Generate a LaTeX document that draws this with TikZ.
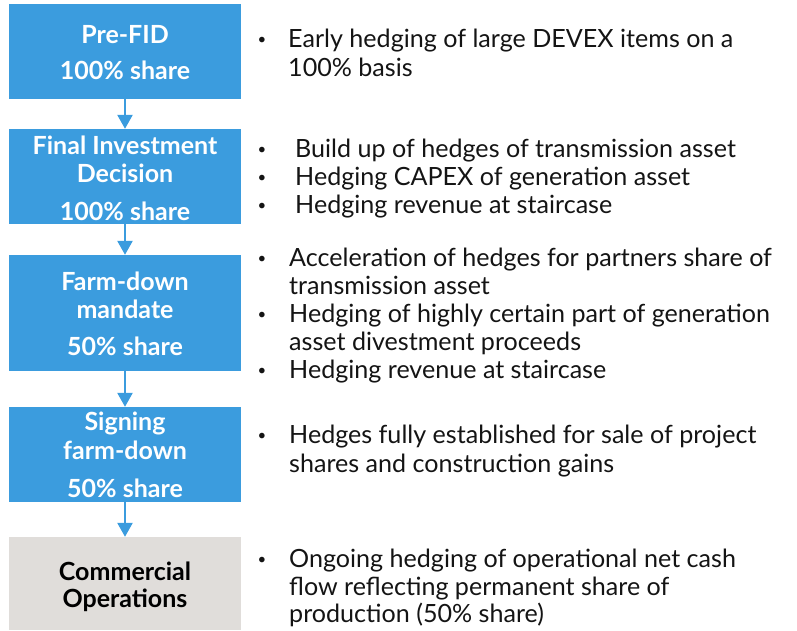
\documentclass[tikz,border=0pt]{standalone}
\usepackage{fontspec}
\setmainfont{Lato}
\usetikzlibrary{arrows.meta}
\definecolor{stepblue}{RGB}{59,156,222}
\definecolor{opgrey}{RGB}{224,221,218}
\definecolor{txt}{RGB}{20,20,20}
\begin{document}
\begin{tikzpicture}[x=1pt,y=-1pt,
  box/.style={draw=none,inner sep=0pt,minimum width=232pt},
  btxt/.style={anchor=base,inner sep=0pt,font=\fontsize{25}{30}\selectfont\bfseries,text=white},
  gtxt/.style={anchor=base,inner sep=0pt,font=\fontsize{25}{30}\selectfont\bfseries,text=black},
  ltxt/.style={anchor=base west,inner sep=0pt,font=\fontsize{25.1}{29}\selectfont,text=txt},
  bul/.style={anchor=base,inner sep=0pt,font=\fontsize{15}{18}\selectfont,text=txt,yshift=3pt},
  flow/.style={draw=stepblue,line width=2.5pt,-{Triangle[width=15pt,length=14pt]}}]
\useasboundingbox (0,0) rectangle (797,630);
% boxes
\node[box,fill=stepblue,minimum height=95pt] (b1) at (125,51.5) {};
\node[box,fill=stepblue,minimum height=95pt] (b2) at (125,176.5) {};
\node[box,fill=stepblue,minimum height=116pt] (b3) at (125,313) {};
\node[box,fill=stepblue,minimum height=95pt] (b4) at (125,454.5) {};
\node[box,fill=opgrey,minimum height=93pt] (b5) at (125,583.5) {};
% arrows
\draw[flow] (b1.south) -- (b2.north);
\draw[flow] (b2.south) -- (b3.north);
\draw[flow] (b3.south) -- (b4.north);
\draw[flow] (b4.south) -- (b5.north);
% box texts
\node[btxt] (t1a) at (125,43) {Pre-FID};
\node[btxt] (t1b) at (125,79) {100\% share};
\node[btxt] (t2a) at (125,154) {Final Investment};
\node[btxt] (t2b) at (125,182) {Decision};
\node[btxt] (t2c) at (125,220) {100\% share};
\node[btxt] (t3a) at (125,290) {Farm-down};
\node[btxt] (t3b) at (125,318) {mandate};
\node[btxt] (t3c) at (125,355) {50\% share};
\node[btxt] (t4a) at (125,430) {Signing};
\node[btxt] (t4b) at (125,459) {farm-down};
\node[btxt] (t4c) at (125,497) {50\% share};
\node[gtxt] (t5a) at (125,580) {Commercial};
\node[gtxt] (t5b) at (125,607) {Operations};
% bullets group 1
\node[bul] (p1) at (262,47) {•};
\node[ltxt] (l1a) at (288,47) {Early hedging of large DEVEX items on a};
\node[ltxt] (l1b) at (288,76) {100\% basis};
% group 2
\node[bul] (p2a) at (262,157) {•};
\node[bul] (p2b) at (262,185) {•};
\node[bul] (p2c) at (262,213) {•};
\node[ltxt] (l2a) at (295,157) {Build up of hedges of transmission asset};
\node[ltxt] (l2b) at (295,185) {Hedging CAPEX of generation asset};
\node[ltxt] (l2c) at (295,213) {Hedging revenue at staircase};
% group 3
\node[bul] (p3a) at (262,266) {•};
\node[bul] (p3b) at (262,322) {•};
\node[bul] (p3c) at (262,378) {•};
\node[ltxt] (l3a) at (289,266) {Acceleration of hedges for partners share of};
\node[ltxt] (l3b) at (289,294) {transmission asset};
\node[ltxt] (l3c) at (289,322) {Hedging of highly certain part of generation};
\node[ltxt] (l3d) at (289,350) {asset divestment proceeds};
\node[ltxt] (l3e) at (289,378) {Hedging revenue at staircase};
% group 4
\node[bul] (p4) at (262,443) {•};
\node[ltxt] (l4a) at (289,443) {Hedges fully established for sale of project};
\node[ltxt] (l4b) at (289,472) {shares and construction gains};
% group 5
\node[bul] (p5) at (262,567) {•};
\node[ltxt] (l5a) at (289,567) {Ongoing hedging of operational net cash};
\node[ltxt] (l5b) at (289,595) {flow reflecting permanent share of};
\node[ltxt] (l5c) at (289,622) {production (50\% share)};
\end{tikzpicture}
\end{document}
